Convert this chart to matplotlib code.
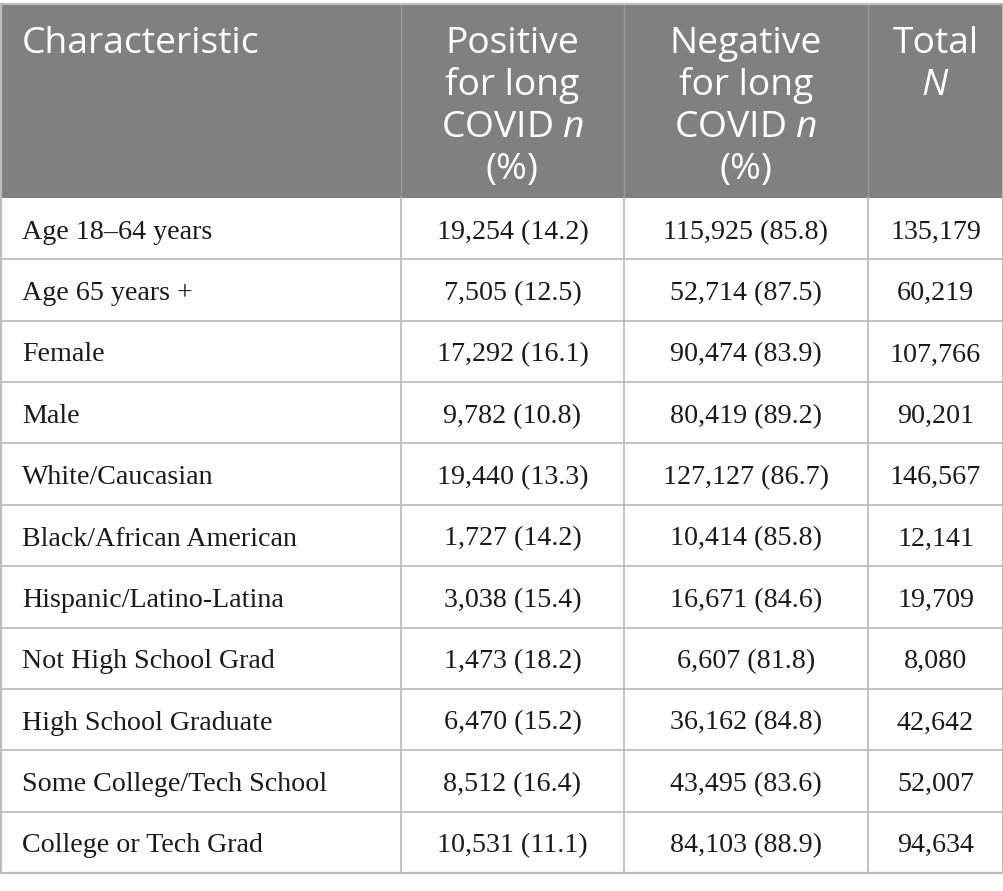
import matplotlib
matplotlib.use('Agg')
import matplotlib.pyplot as plt
from matplotlib.patches import Rectangle

# table content
header_lines = [
    ['Characteristic'],
    ['Positive', 'for long', 'COVID $\\it{n}$', '(%)'],
    ['Negative', 'for long', 'COVID $\\it{n}$', '(%)'],
    ['Total', '$\\it{N}$'],
]
characteristics = ['Age 18\u201364 years', 'Age 65 years +', 'Female', 'Male',
                   'White/Caucasian', 'Black/African American',
                   'Hispanic/Latino-Latina', 'Not High School Grad',
                   'High School Graduate', 'Some College/Tech School',
                   'College or Tech Grad']
positive = ['19,254 (14.2)', '7,505 (12.5)', '17,292 (16.1)', '9,782 (10.8)',
            '19,440 (13.3)', '1,727 (14.2)', '3,038 (15.4)', '1,473 (18.2)',
            '6,470 (15.2)', '8,512 (16.4)', '10,531 (11.1)']
negative = ['115,925 (85.8)', '52,714 (87.5)', '90,474 (83.9)', '80,419 (89.2)',
            '127,127 (86.7)', '10,414 (85.8)', '16,671 (84.6)', '6,607 (81.8)',
            '36,162 (84.8)', '43,495 (83.6)', '84,103 (88.9)']
total = ['135,179', '60,219', '107,766', '90,201', '146,567', '12,141',
         '19,709', '8,080', '42,642', '52,007', '94,634']

plt.rcParams['mathtext.fontset'] = 'custom'
plt.rcParams['mathtext.it'] = 'Open Sans:italic'
plt.rcParams['mathtext.rm'] = 'Open Sans'

W, H = 1004, 891
fig = plt.figure(figsize=(W / 100, H / 100), dpi=100)
ax = fig.add_axes([0, 0, 1, 1])
ax.set_xlim(0, W)
ax.set_ylim(H, 0)
ax.axis('off')

col_x = [1, 401, 624, 868, 1003]
top, head_bot, bottom = 4, 198, 873
n = len(characteristics)
row_h = (bottom - head_bot) / n

header_bg = '#808080'
line_c = '#bdbdbd'

ax.add_patch(Rectangle((col_x[0], top), col_x[-1] - col_x[0], head_bot - top,
                       facecolor=header_bg, edgecolor='none'))
# vertical lines
for x in col_x[1:-1]:
    ax.plot([x, x], [top, head_bot], color='#9a9a9a', lw=1)
    ax.plot([x, x], [head_bot, bottom], color=line_c, lw=1.3)
# horizontal lines
for i in range(1, n):
    y = head_bot + i * row_h
    ax.plot([col_x[0], col_x[-1]], [y, y], color=line_c, lw=1.3)
# outer border
ax.plot([col_x[0], col_x[-1], col_x[-1], col_x[0], col_x[0]],
        [top, top, bottom, bottom, top], color=line_c, lw=1.6)

# header text
hfont = dict(family='Open Sans', fontsize=26.8, color='white')
for j, lines in enumerate(header_lines):
    for k, s in enumerate(lines):
        yb = 53 + k * 42
        if j == 0:
            ax.text(col_x[0] + 21, yb, s, ha='left', va='baseline', **hfont)
        else:
            cx = (col_x[j] + col_x[j + 1]) / 2
            ax.text(cx, yb, s, ha='center', va='baseline', **hfont)

# body text
bfont = dict(family='Liberation Serif', fontsize=20.2, color='#1a1a1a')
cols = [characteristics, positive, negative, total]
for i in range(n):
    yb = head_bot + (i + 0.5) * row_h + 10
    for j, col in enumerate(cols):
        if j == 0:
            ax.text(col_x[0] + 21, yb, col[i], ha='left', va='baseline', **bfont)
        else:
            cx = (col_x[j] + col_x[j + 1]) / 2
            ax.text(cx, yb, col[i], ha='center', va='baseline', **bfont)

fig.savefig('out.png', dpi=100)
